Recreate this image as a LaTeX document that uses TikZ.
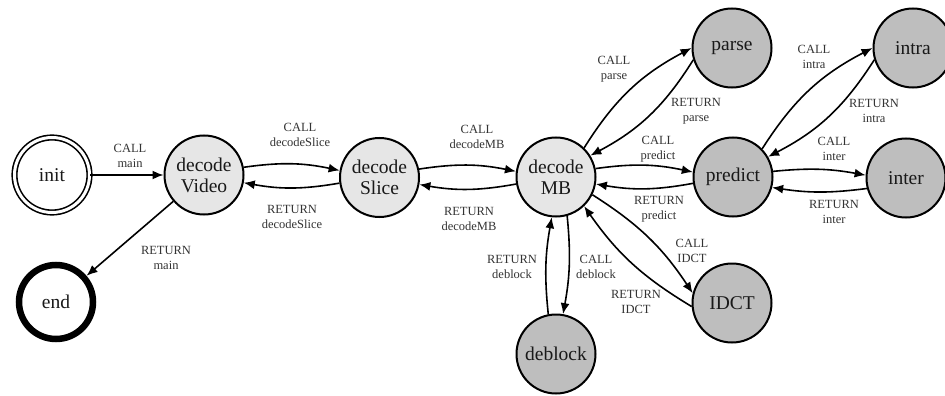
\documentclass[tikz,border=0pt]{standalone}
\usepackage{fontspec}
\setmainfont{Liberation Serif}
\usetikzlibrary{arrows.meta}
\definecolor{lightfill}{RGB}{230,230,230}
\definecolor{darkfill}{RGB}{190,190,190}
\begin{document}
\begin{tikzpicture}[x=1pt,y=-1pt,
  state/.style={circle,draw=black,line width=2pt,minimum size=79pt,inner sep=0pt,
    align=center,font=\fontsize{19.5}{21}\selectfont,text=black!90},
  upper/.style={state,fill=lightfill},
  lower/.style={state,fill=darkfill},
  lbl/.style={align=center,font=\fontsize{12.5}{14.5}\selectfont,text=black!80,inner sep=0pt},
  arr/.style={-{Latex[length=11pt,width=9pt]},line width=1.6pt}]
\clip (0,0) rectangle (945,396);

% states
\node[state,double,double distance=3pt,line width=1.6pt,minimum size=75pt] (init) at (52,175) {init};
\node[state,line width=6.5pt,minimum size=74pt] (end) at (56,302) {end};
\node[upper] (dv) at (204,175) {decode\\Video};
\node[upper] (ds) at (379.5,177.5) {decode\\Slice};
\node[upper] (mb) at (556,177) {decode\\MB};
\node[lower] (parse) at (732,48) {parse};
\node[lower] (pred) at (733,177) {predict};
\node[lower] (intra) at (913,48) {intra};
\node[lower] (inter) at (906,178) {inter};
\node[lower] (idct) at (732,303) {IDCT};
\node[lower] (deblock) at (556,354) {deblock};

% transitions
\draw[arr] (init) -- (dv);
\draw[arr] (dv) -- (end);
\draw[arr] (dv.11) to[bend left=10] (ds.170);
\draw[arr] (ds.188) to[bend left=10] (dv.-11);
\draw[arr] (ds.12) to[bend left=10] (mb.172);
\draw[arr] (mb.190) to[bend left=10] (ds.-10);
\draw[arr] (mb.46) to[bend left=15] (parse.180);
\draw[arr] (parse.197) to[bend left=15] (mb.32);
\draw[arr] (mb.12) to[bend left=10] (pred.173);
\draw[arr] (pred.189) to[bend left=10] (mb.-10);
\draw[arr] (pred.44) to[bend left=15] (intra.180);
\draw[arr] (intra.197) to[bend left=15] (pred.30);
\draw[arr] (pred.8) to[bend left=8] (inter.176);
\draw[arr] (inter.195) to[bend left=8] (pred.-15);
\draw[arr] (mb.-26) to[bend left=12] (idct.166);
\draw[arr] (idct.185) to[bend left=12] (mb.-46);
\draw[arr] (mb.-74) to[bend left=8] (deblock.80);
\draw[arr] (deblock.101) to[bend left=8] (mb.-96);

% transition labels
\node[lbl] (l-cmain) at (130,156) {CALL\\main};
\node[lbl] (l-rmain) at (166,258) {RETURN\\main};
\node[lbl] (l-cslice) at (300,135) {CALL\\decodeSlice};
\node[lbl] (l-rslice) at (292,217) {RETURN\\decodeSlice};
\node[lbl] (l-cmb) at (477,137) {CALL\\decodeMB};
\node[lbl] (l-rmb) at (469,219) {RETURN\\decodeMB};
\node[lbl] (l-cparse) at (614,69) {CALL\\parse};
\node[lbl] (l-rparse) at (696,111) {RETURN\\parse};
\node[lbl] (l-cpred) at (658,149) {CALL\\predict};
\node[lbl] (l-rpred) at (659,209) {RETURN\\predict};
\node[lbl] (l-cintra) at (814,57) {CALL\\intra};
\node[lbl] (l-rintra) at (874,111) {RETURN\\intra};
\node[lbl] (l-cinter) at (834,149) {CALL\\inter};
\node[lbl] (l-rinter) at (834,212) {RETURN\\inter};
\node[lbl] (l-cidct) at (692,251) {CALL\\IDCT};
\node[lbl] (l-ridct) at (636,302) {RETURN\\IDCT};
\node[lbl] (l-cdeb) at (596,267) {CALL\\deblock};
\node[lbl] (l-rdeb) at (512,267) {RETURN\\deblock};
\end{tikzpicture}
\end{document}
